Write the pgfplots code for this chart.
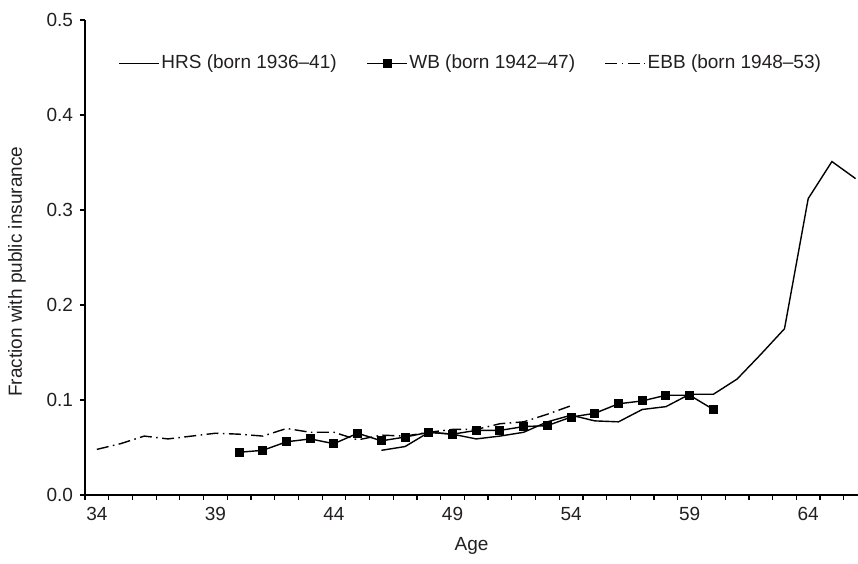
\documentclass[border=0pt]{standalone}
\usepackage{fontspec}
\setmainfont{Liberation Sans}
\usepackage{pgfplots}
\pgfplotsset{compat=1.18}
\definecolor{txt}{HTML}{231F20}

\begin{document}
\begin{tikzpicture}
\begin{axis}[
    scale only axis,
    width=386.5pt, height=237.5pt,
    xmin=33.5, xmax=66.1,
    ymin=0, ymax=0.5,
    axis x line=bottom, axis y line=left,
    axis line style={-, line width=0.6pt},
    tick align=outside,
    major tick length=2.5pt, minor tick length=2.5pt,
    tick style={line width=0.6pt, black},
    xtick={34,39,...,64},
    minor xtick={33.5,34.5,...,65.5},
    major x tick style={draw=none},
    ytick={0,0.1,0.2,0.3,0.4,0.5},
    yticklabel style={/pgf/number format/.cd, fixed, fixed zerofill, precision=1},
    /pgf/number format/assume math mode=true,
    tick label style={font=\fontsize{9.5}{11}\selectfont, text=txt},
    label style={font=\fontsize{9.5}{11}\selectfont, text=txt},
    xlabel={Age},
    ylabel={Fraction with public insurance},
    xlabel style={at={(axis description cs:0.5,-0.107)}, anchor=center},
    ylabel style={at={(axis description cs:-0.088,0.47)}, anchor=center},
    legend columns=3,
    legend style={draw=none, fill=none, at={(0.0427,0.909)}, anchor=west,
        inner sep=0pt, font=\fontsize{9.5}{11}\selectfont, text=txt,
        nodes={inner sep=0.8pt},
        /tikz/every even column/.append style={column sep=14pt}},
    legend image code/.code={\draw[mark repeat=2,mark phase=2,#1] plot coordinates {(0pt,0pt) (10pt,0pt) (20pt,0pt)};},
]
\coordinate (bl) at (rel axis cs:0,0);
\coordinate (tr) at (rel axis cs:1,1);

% HRS
\addplot[black, line width=0.7pt, mark=none] coordinates {
(46,0.047) (47,0.051) (48,0.066) (49,0.064) (50,0.059) (51,0.062) (52,0.066)
(53,0.077) (54,0.084) (55,0.078) (56,0.077) (57,0.090) (58,0.093) (59,0.106)
(60,0.106) (61,0.122) (62,0.148) (63,0.175) (64,0.312) (65,0.351) (66,0.333)};
\addlegendentry{HRS (born 1936–41)}

% WB
\addplot[black, line width=0.7pt, mark=square*, mark size=1.9pt, mark options={solid}] coordinates {
(40,0.045) (41,0.047) (42,0.056) (43,0.059) (44,0.054) (45,0.065) (46,0.057)
(47,0.061) (48,0.066) (49,0.064) (50,0.068) (51,0.068) (52,0.072) (53,0.073)
(54,0.082) (55,0.086) (56,0.096) (57,0.099) (58,0.105) (59,0.105) (60,0.090)};
\addlegendentry{WB (born 1942–47)}

% EBB
\addplot[black, line width=0.7pt, mark=none, dash pattern=on 6pt off 2.2pt on 0.8pt off 2.2pt] coordinates {
(34,0.048) (35,0.054) (36,0.062) (37,0.059) (38,0.062) (39,0.065) (40,0.064)
(41,0.062) (42,0.070) (43,0.066) (44,0.066) (45,0.058) (46,0.063) (47,0.062)
(48,0.066) (49,0.069) (50,0.069) (51,0.075) (52,0.077) (53,0.085) (54,0.094)};
\addlegendentry{EBB (born 1948–53)}
\end{axis}
\pgfresetboundingbox
\path[use as bounding box] ([xshift=-42.5pt,yshift=-34.5pt]bl) rectangle ([yshift=10pt]tr);
\end{tikzpicture}
\end{document}
